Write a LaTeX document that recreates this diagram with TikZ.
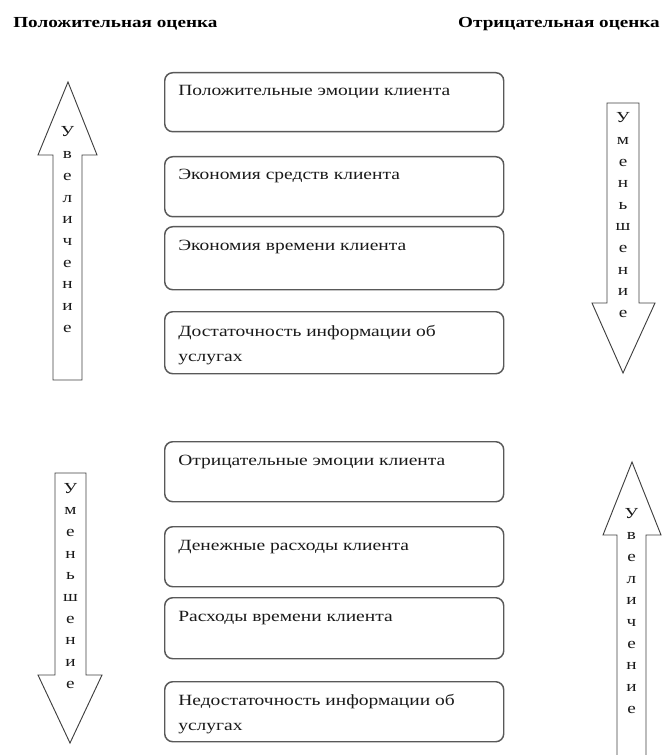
\documentclass[tikz,border=0pt]{standalone}
\usepackage{fontspec}
\setmainfont[FakeStretch=1.25]{Liberation Serif}
\begin{document}
\begin{tikzpicture}[x=0.75pt,y=-0.75pt]
\tikzset{
  box/.style={draw=black!65, line width=1.1pt, rounded corners=6pt, anchor=north west, minimum width=254.25pt, inner sep=0pt},
  txt/.style={anchor=base west, inner sep=0pt, font=\fontsize{11.7pt}{19pt}\selectfont, text=black!90},
  head/.style={anchor=base west, inner sep=0pt, font=\fontsize{11.5pt}{13pt}\selectfont\bfseries},
  arr/.style={draw=black!75, line width=0.7pt, fill=white},
  let/.style={anchor=base, inner sep=0pt, font=\fontsize{11.5pt}{13pt}\selectfont, text=black!90}
}
\useasboundingbox (0,0) rectangle (662,755);
\clip (0,0) rectangle (662,755);
% headers
\node[head] (hpos) at (13,28) {Положительная оценка};
\node[head, anchor=base east] (hneg) at (660,28) {Отрицательная оценка};
% boxes
\node[box, minimum height=44.25pt] (b1) at (164,72) {};
\node[box, minimum height=45pt] (b2) at (164,156) {};
\node[box, minimum height=47.25pt] (b3) at (164,226) {};
\node[box, minimum height=46.5pt] (b4) at (164,311) {};
\node[box, minimum height=45pt] (b5) at (164,441) {};
\node[box, minimum height=45pt] (b6) at (164,526) {};
\node[box, minimum height=45.75pt] (b7) at (164,597) {};
\node[box, minimum height=45pt] (b8) at (164,681) {};
\node[txt] (t1) at (178,96) {Положительные эмоции клиента};
\node[txt] (t2) at (178,180) {Экономия средств клиента};
\node[txt] (t3) at (178,251) {Экономия времени клиента};
\node[txt] (t4) at (178,336) {\vtop{\hbox{Достаточность информации об}\hbox{услугах}}};
\node[txt] (t5) at (178,465) {Отрицательные эмоции клиента};
\node[txt] (t6) at (178,550) {Денежные расходы клиента};
\node[txt] (t7) at (178,621) {Расходы времени клиента};
\node[txt] (t8) at (178,705) {\vtop{\hbox{Недостаточность информации об}\hbox{услугах}}};
% left up arrow
\draw[arr] (68,82) -- (97,155) -- (82,155) -- (82,380) -- (53,380) -- (53,155) -- (38,155) -- cycle;
\foreach \l [count=\i] in {У,в,е,л,и,ч,е,н,и,е}
  \node[let] (lu\i) at (67.5,{137+21.7*(\i-1)}) {\l};
% right down arrow
\draw[arr] (607,103) -- (639,103) -- (639,303) -- (655,303) -- (623,373) -- (592,303) -- (607,303) -- cycle;
\foreach \l [count=\i] in {У,м,е,н,ь,ш,е,н,и,е}
  \node[let] (rd\i) at (623,{123+21.6*(\i-1)}) {\l};
% left down arrow
\draw[arr] (55,473) -- (86,473) -- (86,675) -- (102,675) -- (70,743) -- (38,675) -- (55,675) -- cycle;
\foreach \l [count=\i] in {У,м,е,н,ь,ш,е,н,и,е}
  \node[let] (ld\i) at (70.5,{493+21.7*(\i-1)}) {\l};
% right up arrow
\draw[arr] (632,462) -- (661,535) -- (646,535) -- (646,770) -- (617,770) -- (617,535) -- (603,535) -- cycle;
\foreach \l [count=\i] in {У,в,е,л,и,ч,е,н,и,е}
  \node[let] (ru\i) at (631.5,{518+21.7*(\i-1)}) {\l};
\end{tikzpicture}
\end{document}
